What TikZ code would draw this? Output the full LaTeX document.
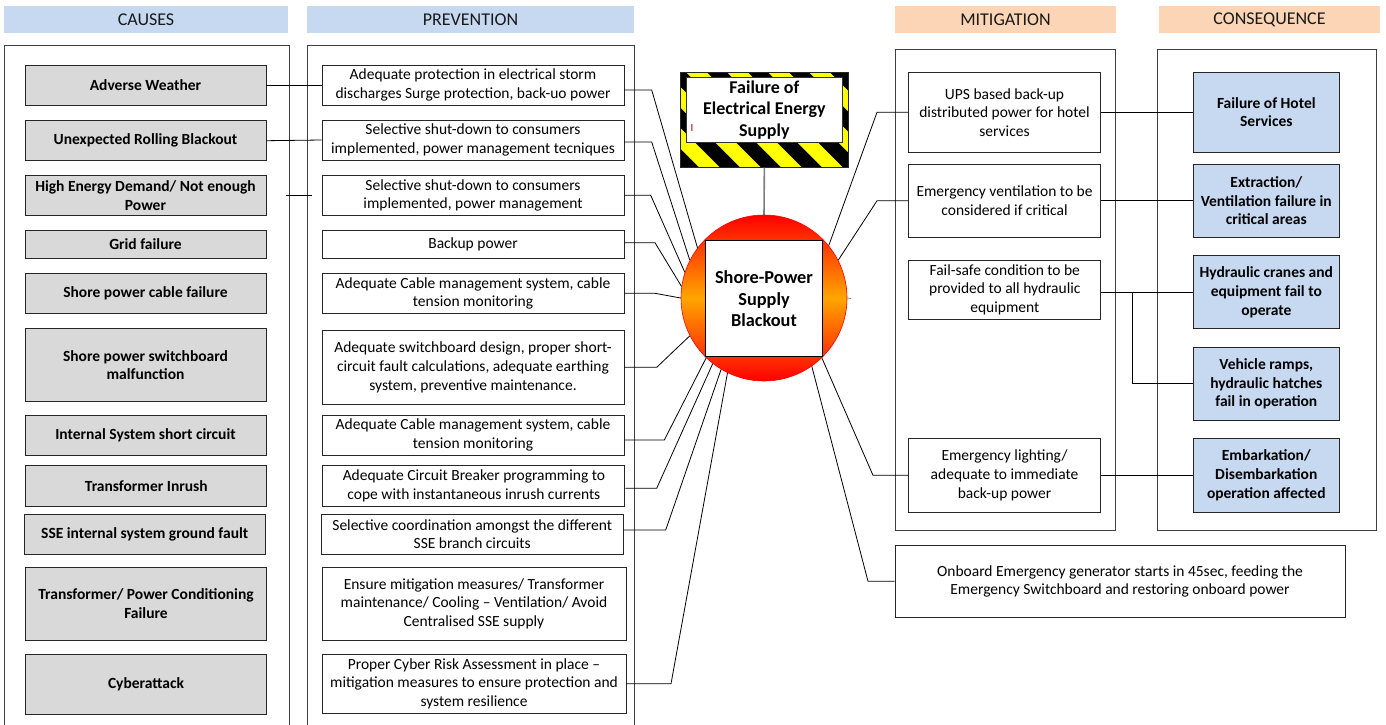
\documentclass[tikz,border=0pt]{standalone}
\usepackage{fontspec}
\setmainfont{Carlito}
\definecolor{hdrblue}{HTML}{C6D9F1}
\definecolor{hdrpeach}{HTML}{FBD5B5}
\definecolor{causegray}{HTML}{D9D9D9}
\definecolor{consblue}{HTML}{C6D9F1}
\definecolor{panelgray}{HTML}{404040}
\definecolor{hazyellow}{HTML}{FFFF00}
\definecolor{midorange}{HTML}{FFA500}
\definecolor{linkgray}{HTML}{7F7F7F}
\newcommand\myfs{\fontsize{15.5}{18.6}\selectfont}
\newcommand\myhfs{\fontsize{18}{20}\selectfont}
\newcommand\mybig{\fontsize{18.3}{21.7}\selectfont}
\tikzset{
  hdr/.style={minimum height=27pt, inner sep=0pt, font=\myhfs, text=black!90},
  panel/.style={draw=panelgray, line width=0.9pt},
  causebox/.style={draw=black!85, line width=0.9pt, fill=causegray, font=\myfs\bfseries, align=center, inner sep=0pt, minimum width=241pt},
  prevbox/.style={draw=black!85, line width=0.9pt, fill=white, font=\myfs, align=center, inner sep=0pt, minimum width=302pt},
  mitbox/.style={draw=black!85, line width=0.9pt, fill=white, font=\myfs, align=center, inner sep=0pt, minimum width=192pt},
  consbox/.style={draw=black!85, line width=0.9pt, fill=consblue, font=\myfs\bfseries, align=center, inner sep=0pt, minimum width=146pt},
  link/.style={draw=black, line width=0.8pt},
}
\begin{document}
\begin{tikzpicture}[x=1pt,y=-1pt]
\clip (0,0) rectangle (1386,724);
\fill[white] (0,0) rectangle (1386,724);

% headers
\node[hdr, fill=hdrblue, minimum width=284pt] (hcauses) at (146,19.5) {CAUSES};
\node[hdr, fill=hdrblue, minimum width=327pt] (hprev) at (470.5,19.5) {PREVENTION};
\node[hdr, fill=hdrpeach, minimum width=221pt] (hmit) at (1005.5,19.5) {MITIGATION};
\node[hdr, fill=hdrpeach, minimum width=221pt] (hcons) at (1269.5,19.5) {CONSEQUENCE};

% panels
\draw[panel] (4,45) rectangle (289,740);
\draw[panel] (307,45) rectangle (634,740);
\draw[panel] (895,49) rectangle (1115,530);
\draw[panel] (1157,49) rectangle (1376,530);

% causes
\node[causebox, minimum height=40pt] (c1) at (145.5,85) {Adverse Weather};
\node[causebox, minimum height=40pt] (c2) at (145.5,140.7) {Unexpected Rolling Blackout};
\node[causebox, minimum height=40pt] (c3) at (145.5,195.7) {High Energy Demand/ Not enough\\Power};
\node[causebox, minimum height=27.6pt] (c4) at (145.5,244.5) {Grid failure};
\node[causebox, minimum height=40pt] (c5) at (145.5,293.3) {Shore power cable failure};
\node[causebox, minimum height=73.4pt] (c6) at (145.5,365) {Shore power switchboard\\malfunction};
\node[causebox, minimum height=40pt] (c7) at (145.5,435.7) {Internal System short circuit};
\node[causebox, minimum height=40.3pt] (c8) at (146.3,485.9) {Transformer Inrush};
\node[causebox, minimum height=40pt] (c9) at (144.7,534.3) {SSE internal system ground fault};
\node[causebox, minimum height=73pt] (c10) at (146,603.8) {Transformer/ Power Conditioning\\Failure};
\node[causebox, minimum height=59.3pt] (c11) at (146,684.4) {Cyberattack};

% prevention
\node[prevbox, minimum height=40pt] (p1) at (473,85) {Adequate protection in electrical storm\\discharges Surge protection, back-uo power};
\node[prevbox, minimum height=40pt] (p2) at (473,140) {Selective shut-down to consumers\\implemented, power management tecniques};
\node[prevbox, minimum height=40.7pt] (p3) at (473,195.3) {Selective shut-down to consumers\\implemented, power management};
\node[prevbox, minimum height=27.6pt] (p4) at (473,244.5) {Backup power};
\node[prevbox, minimum height=40pt] (p5) at (473,293.3) {Adequate Cable management system, cable\\tension monitoring};
\node[prevbox, minimum height=73.3pt] (p6) at (473,367.3) {Adequate switchboard design, proper short-\\circuit fault calculations, adequate earthing\\system, preventive maintenance.};
\node[prevbox, minimum height=40pt] (p7) at (473,435) {Adequate Cable management system, cable\\tension monitoring};
\node[prevbox, minimum height=40.3pt] (p8) at (473.9,485.9) {Adequate Circuit Breaker programming to\\cope with instantaneous inrush currents};
\node[prevbox, minimum height=40.3pt] (p9) at (472.2,534.2) {Selective coordination amongst the different\\SSE branch circuits};
\node[prevbox, minimum height=73pt, minimum width=304pt] (p10) at (474,603.8) {Ensure mitigation measures/ Transformer\\maintenance/ Cooling -- Ventilation/ Avoid\\Centralised SSE supply};
\node[prevbox, minimum height=59pt, minimum width=304pt] (p11) at (474,683.8) {Proper Cyber Risk Assessment in place --\\mitigation measures to ensure protection and\\system resilience};

% cause -> prevention links
\draw[link] (c1.east) -- (p1.west);
\draw[link] (c2.east) -- (p2.west);
\coordinate (s3a) at (286,195.7);
\coordinate (s3b) at (312,195.7);
\draw[link] (s3a) -- (s3b);

% hazard box
\node[minimum width=166.7pt, minimum height=95pt, inner sep=0pt] (haz) at (764.35,119.8) {};
\begin{scope}
\clip (haz.north west) rectangle (haz.south east);
\fill[hazyellow] (haz.north west) rectangle (haz.south east);
\foreach \k in {-1,...,7}{
  \fill[black] ({584+41*\k},72.3) -- ({604+41*\k},72.3) -- ({699+41*\k},167.3) -- ({679+41*\k},167.3) -- cycle;
}
\end{scope}
\draw[black!85, line width=0.8pt] (haz.north west) rectangle (haz.south east);
\node[draw=black!80, line width=0.8pt, fill=white, minimum width=156.7pt, minimum height=65pt, inner sep=0pt, align=center, font=\fontsize{18}{21.7}\selectfont\bfseries] (title) at (764.35,109.8) {Failure of\\Electrical Energy\\Supply};
\node[text=red!65!black, font=\fontsize{11}{12}\selectfont, inner sep=0pt] (cursor) at (692,128) {I};

% circle
\draw[linkgray, line width=1.6pt] (haz.south) -- (764,215);
\node[circle, minimum size=166pt, inner sep=0pt, draw=red, line width=0.6pt, top color=red, bottom color=red, middle color=midorange] (circ) at (764,298) {};
\node[draw=black, line width=0.9pt, fill=white, minimum width=116.6pt, minimum height=116pt, inner sep=0pt, align=center, font=\mybig\bfseries] (core) at (764,298.7) {Shore-Power\\Supply\\Blackout};

% prevention -> circle
\draw[link] ([yshift=-5pt]p1.east) -- (651.7,90) -- (circ.143.6);
\draw[link] ([yshift=-2pt]p2.east) -- (651.7,142) -- (circ.153.4);
\draw[link] (p3.east) -- (650.7,195.3) -- (circ.162.6);
\draw[link] ([yshift=1.8pt]p4.east) -- (655,242.7) -- (circ.172.1);
\draw[link] (p5.east) -- (655,293.3) -- (circ.180.9);
\draw[link] (p6.east) -- (656.7,367.3) -- (circ.207.4);
\draw[link] ([yshift=-5pt]p7.east) -- (664.3,440) -- (circ.226.1);
\draw[link] ([yshift=-2.4pt]p8.east) -- (656.7,488.3) -- (circ.232.6);
\draw[link] ([yshift=4.2pt]p9.east) -- (665.7,530) -- (circ.239);
\draw[link] (p11.east) -- (671,683.8) -- (circ.244.6);

% mitigation
\node[mitbox, minimum height=80pt] (m1) at (1004.5,112.3) {UPS based back-up\\distributed power for hotel\\services};
\node[mitbox, minimum height=73pt] (m2) at (1004.5,200.8) {Emergency ventilation to be\\considered if critical};
\node[mitbox, minimum height=59pt] (m3) at (1004.8,289.5) {Fail-safe condition to be\\provided to all hydraulic\\equipment};
\node[mitbox, minimum height=73.3pt] (m4) at (1004.5,475.3) {Emergency lighting/\\adequate to immediate\\back-up power};
\node[mitbox, minimum width=450pt, minimum height=72.7pt] (gen) at (1120,581.3) {Onboard Emergency generator starts in 45sec, feeding the\\Emergency Switchboard and restoring onboard power};

% consequences
\node[consbox, minimum height=80pt] (q1) at (1266.3,112.3) {Failure of Hotel\\Services};
\node[consbox, minimum height=73pt] (q2) at (1266.3,200.8) {Extraction/\\Ventilation failure in\\critical areas};
\node[consbox, minimum height=73pt] (q3) at (1266.3,292.2) {Hydraulic cranes and\\equipment fail to\\operate};
\node[consbox, minimum height=73pt] (q4) at (1266.3,383.8) {Vehicle ramps,\\hydraulic hatches\\fail in operation};
\node[consbox, minimum height=73.3pt] (q5) at (1266.3,475.3) {Embarkation/\\Disembarkation\\operation affected};

% circle -> mitigation
\draw[link] (circ.39.6) -- (877,112.3) -- (m1.west);
\draw[link] (circ.27.2) -- (877,200.8) -- (m2.west);
\coordinate (stub) at (851,298.5);
\draw[linkgray, line width=0.8pt] (circ.-0.5) -- (stub);
\draw[link] (circ.-46.3) -- (873,475.3) -- (m4.west);
\draw[link] (circ.-55.5) -- (868,581.3) -- (gen.west);

% mitigation -> consequence
\draw[link] (m1.east) -- (q1.west);
\draw[link] (m2.east) -- (q2.west);
\draw[link] (q3.west -| m3.east) -- (q3.west);
\coordinate (br) at (1132.3,292.2);
\draw[link] (br) |- (q4.west);
\draw[link] (m4.east) -- (q5.west);
\end{tikzpicture}
\end{document}
